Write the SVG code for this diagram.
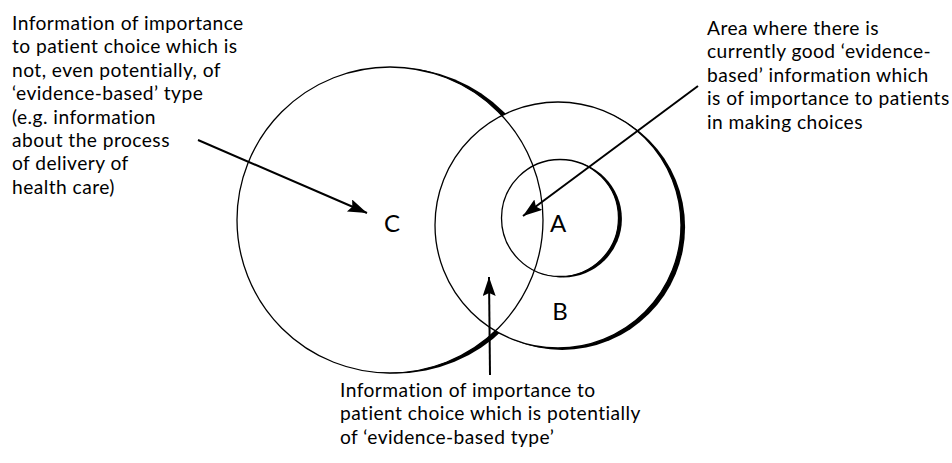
<svg xmlns="http://www.w3.org/2000/svg" width="952" height="463" viewBox="0 0 952 463">
  <style>
    .ring { fill: none; stroke: #000; stroke-width: 1.3; }
    .shade { fill: #000; stroke: none; }
    .txt { font-family: Lato, "Open Sans", "Liberation Sans", sans-serif; font-size: 19.2px; letter-spacing: 0.45px; fill: #000; }
    .lbl { font-family: Lato, "Open Sans", "Liberation Sans", sans-serif; font-size: 24px; fill: #000; text-anchor: middle; }
    .arrow { stroke: #000; stroke-width: 2; fill: none; marker-end: url(#head); }
  </style>
  <defs>
    <marker id="head" markerUnits="userSpaceOnUse" markerWidth="22" markerHeight="16" refX="19" refY="6.5" orient="auto">
      <path d="M0 0 L19 6.5 L0 13 L3 6.5 Z" fill="#000"/>
    </marker>
    <clipPath id="outC">
      <path clip-rule="evenodd" d="M0 0H952V463H0Z M237 220 a153 153 0 1 0 306 0 a153 153 0 1 0 -306 0Z"/>
    </clipPath>
    <clipPath id="outB">
      <path clip-rule="evenodd" d="M0 0H952V463H0Z M435 225 a123 123 0 1 0 246 0 a123 123 0 1 0 -246 0Z"/>
    </clipPath>
    <clipPath id="outA">
      <path clip-rule="evenodd" d="M0 0H952V463H0Z M501.5 218 a58.5 58.5 0 1 0 117 0 a58.5 58.5 0 1 0 -117 0Z"/>
    </clipPath>
  </defs>

  <g id="node-C">
    <g clip-path="url(#outB)">
      <circle class="shade" cx="396" cy="220.5" r="153" clip-path="url(#outC)"/>
    </g>
    <circle class="ring" cx="390" cy="220" r="153"/>
    <text class="lbl" x="392" y="232">C</text>
  </g>

  <g id="node-B">
    <circle class="shade" cx="562.1" cy="226.9" r="123" clip-path="url(#outB)"/>
    <circle class="ring" cx="558" cy="225" r="123"/>
    <text class="lbl" x="560" y="320">B</text>
  </g>

  <g id="node-A">
    <circle class="shade" cx="563.4" cy="218.9" r="58.5" clip-path="url(#outA)"/>
    <circle class="ring" cx="560" cy="218" r="58.5"/>
    <text class="lbl" x="558" y="232">A</text>
  </g>

  <g id="note-left">
    <text class="txt" x="12" y="30">Information of importance</text>
    <text class="txt" x="12" y="53.4">to patient choice which is</text>
    <text class="txt" x="12" y="76.8">not, even potentially, of</text>
    <text class="txt" x="12" y="100.2">‘evidence-based’ type</text>
    <text class="txt" x="12" y="123.6">(e.g. information</text>
    <text class="txt" x="12" y="147">about the process</text>
    <text class="txt" x="12" y="170.4">of delivery of</text>
    <text class="txt" x="12" y="193.8">health care)</text>
  </g>

  <g id="note-right">
    <text class="txt" x="707" y="35">Area where there is</text>
    <text class="txt" x="707" y="58.4">currently good ‘evidence-</text>
    <text class="txt" x="707" y="81.8">based’ information which</text>
    <text class="txt" x="707" y="105.2">is of importance to patients</text>
    <text class="txt" x="707" y="128.6">in making choices</text>
  </g>

  <g id="note-bottom">
    <text class="txt" x="340" y="397">Information of importance to</text>
    <text class="txt" x="340" y="420.4">patient choice which is potentially</text>
    <text class="txt" x="340" y="443.8">of ‘evidence-based type’</text>
  </g>

  <g id="connectors">
    <line class="arrow" x1="198" y1="140" x2="367" y2="213"/>
    <line class="arrow" x1="698" y1="86" x2="523" y2="216"/>
    <line class="arrow" x1="490" y1="375" x2="489" y2="277"/>
  </g>
</svg>
